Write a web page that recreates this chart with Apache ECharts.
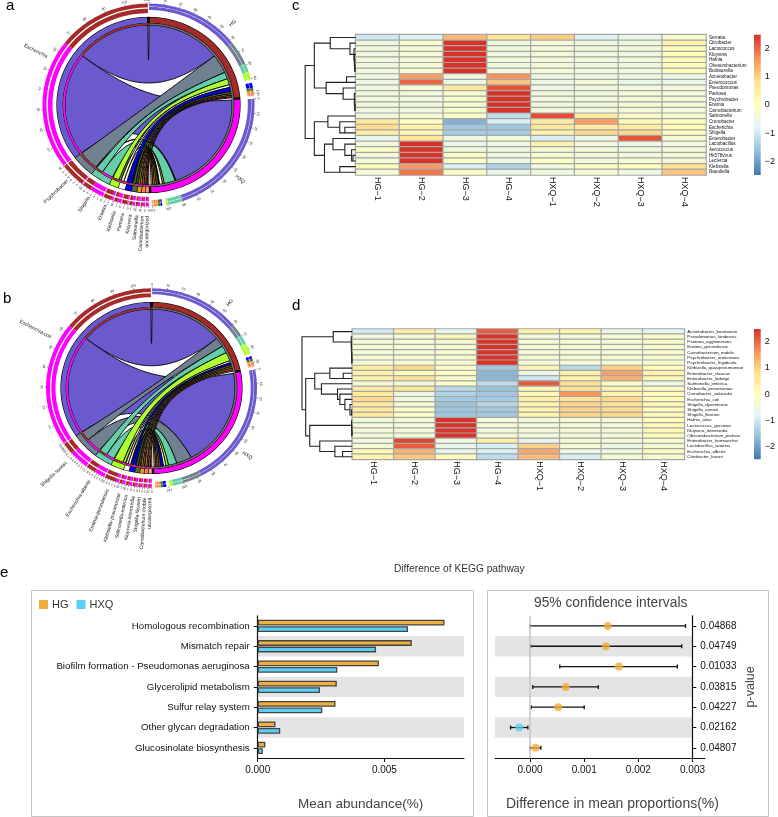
<!DOCTYPE html>
<html><head><meta charset="utf-8">
<style>html,body{margin:0;padding:0;background:#fff}#c{width:778px;height:817px}</style>
<script src="https://cdn.jsdelivr.net/npm/echarts@6/dist/echarts.min.js"></script>
</head><body><div id="c"></div>
<script>
// ---------- chord a ----------
const aSpecies=['Escherichia','Psychrobacter','Shigella','Erwinia','Klebsiella','Pantoea','Kluyvera','Salmonella','Carnobacterium','uncategorized'];
const aColors=['#6A5ACD','#708090','#66CDAA','#ADFF2F','#FFF8DC','#0000FF','#556B2F','#DAA520','#FF7F50','#FFA07A'];
const aHG=[53.5,14.3,5.1,4.6,2,3,1.8,1.2,1.1,.7];
const aHXQ=[77,.5,8,1.2,2.2,.8,1.5,1.3,1.2,1.1];
// ---------- chord b ----------
const bSpecies=['Escherichia-coli','Shigella-sonnei','Escherichia-albertii','Erwinia-gerundensis','Klebsiella-pneumoniae','Salmonella-enterica','Kluyvera-intermedia','Shigella-flexneri','Carnobacterium-mobile','uncategorized'];
const bColors=['#6A5ACD','#708090','#66CDAA','#ADFF2F','#FFF8DC','#0000FF','#556B2F','#DAA520','#FF7F50','#FFA07A'];
const bHG=[52,7,5.5,6.5,1.5,1.5,1.5,1.2,1.3,1];
const bHXQ=[74,11,6,1.8,1.8,1.8,1.4,1.2,1.1,1];
const groups=['HG','HXQ'];
// ---------- heatmap c ----------
const samples=['HG\u22121','HG\u22122','HG\u22123','HG\u22124','HXQ\u22121','HXQ\u22122','HXQ\u22123','HXQ\u22124'];
const cRows=['Serratia','Citrobacter','Lactococcus','Kluyvera','Hafnia','Obesumbacterium','Buttiauxella','Acinetobacter','Enterococcus','Pseudomonas','Pantoea','Psychrobacter','Erwinia','Carnobacterium','Salmonella','Cronobacter','Escherichia','Shigella','Enterobacter','Lactobacillus','Aerococcus','Hk578virus','Leclercia','Klebsiella','Raoultella'];
const cValues=[
[-1,-.8,1.2,.7,1,-.8,-.6,-.2],
[-.45,-.15,2.45,-.45,-.35,-.45,-.45,.35],
[-.4,-.3,2.45,-.4,-.35,-.4,-.4,.1],
[-.4,-.3,2.45,-.4,-.35,-.4,-.4,.1],
[-.4,-.3,2.45,-.4,-.35,-.4,-.4,.1],
[-.4,-.3,2.45,-.4,-.35,-.4,-.4,.1],
[-.4,-.3,2.45,-.4,-.35,-.4,-.4,.1],
[-.45,1.5,-.45,1.6,-.5,-.45,-.45,-.5],
[-.5,2,-.5,1.1,-.5,-.35,-.6,-.55],
[-.45,-.3,.6,2.15,-.5,-.4,-.4,-.4],
[-.4,-.4,-.2,2.45,-.4,-.4,-.3,-.35],
[-.4,-.4,-.2,2.45,-.4,-.4,-.3,-.35],
[-.4,-.4,-.2,2.45,-.4,-.4,-.3,-.35],
[-.4,-.4,-.2,2.45,-.4,-.4,-.3,-.35],
[-.45,-.3,-.1,-1.15,2.2,.5,-.2,-.25],
[.6,.05,-1.8,-.9,.5,1.5,.15,.05],
[.85,.35,-1.5,-1.5,.6,.55,.5,.1],
[.5,.2,-1.45,-1.45,.35,.9,.9,.1],
[-.6,.65,-.45,-.35,-.9,-.55,2.15,-.3],
[-.4,2.45,-.55,-.5,.35,-.4,-.45,-.4],
[-.1,2.45,-.4,-.45,-.3,-.35,-.4,-.35],
[-.35,2.45,-.1,-.45,-.25,-.35,-.4,-.35],
[-.35,2.45,-.1,-.45,-.1,-.4,-.3,-.3],
[.1,1.5,-.9,-1.35,-.35,0,0,.75],
[-.35,1.85,-.05,-.6,-.45,-.3,-.5,1.1]];
// dendrogram merges: [height, childA, childB]; child>=0 leaf row, child<0 merge ~child
const cTree=[[2,5,6],[3,4,~0],[4,3,~1],[5,2,~2],[17,1,~3],[75,0,~4],[27,7,8],[2,12,13],[3,11,~7],[4,10,~8],[37,9,~9],[87,~6,~10],[122,~5,~11],
[32,16,17],[47,15,~13],[82,14,~14],[8,21,22],[12,20,~16],[32,19,~17],[67,18,~18],[47,23,24],[92,~19,~20],[122,~15,~21],[149,~12,~22]];
// ---------- heatmap d ----------
const dRows=['Acinetobacter_baumannii','Pseudomonas_lundensis','Pantoea_agglomerans','Erwinia_gerundensis','Carnobacterium_mobile','Psychrobacter_urativorans','Psychrobacter_frigidicola','Klebsiella_quasipneumoniae','Enterobacter_cloacae','Enterobacter_ludwigii','Salmonella_enterica','Klebsiella_pneumoniae','Cronobacter_sakazakii','Escherichia_coli','Shigella_dysenteriae','Shigella_sonnei','Shigella_flexneri','Hafnia_alvei','Lactococcus_garvieae','Kluyvera_intermedia','Obesumbacterium_proteus','Enterobacter_hormaechei','Lactobacillus_aviarius','Escherichia_albertii','Citrobacter_koseri'];
const dValues=[
[-1,.5,-.65,2.1,.4,.3,-.55,-.7],
[-.4,-.3,.2,2.45,-.35,-.35,-.25,-.15],
[-.3,-.3,-.25,2.45,-.3,-.3,-.3,-.2],
[-.3,-.3,-.25,2.45,-.3,-.3,-.3,-.2],
[-.3,-.3,-.25,2.45,-.3,-.3,-.3,-.2],
[-.3,-.3,-.25,2.45,-.3,-.3,-.3,-.2],
[-.3,-.3,-.25,2.45,-.3,-.3,-.3,-.2],
[.45,.9,-.1,-1.5,.25,-1.25,1,.1],
[.4,.05,-.05,-1.75,-.6,.45,1.45,.3],
[.35,.75,-.15,-1.75,-1,.35,1.3,.25],
[-.3,-.4,-.1,-1.2,2.1,.75,-.1,-.55],
[.55,.65,-1.25,-1.6,.2,.7,.3,.1],
[.6,-.5,-1.35,-1.5,.2,1.6,.3,.05],
[.9,-.4,-1.5,-1.45,.4,.75,.9,.1],
[.65,-.35,-1.6,-1.3,.35,.95,.75,.2],
[.6,-.1,-1.55,-1.5,.35,.95,.85,.05],
[.6,-.1,-1.55,-1.5,.3,.95,.9,.1],
[-.35,-.35,2.45,-.35,-.35,-.3,-.35,.1],
[-.35,-.35,2.45,-.35,-.35,-.3,-.35,.1],
[-.35,-.35,2.45,-.35,-.35,-.3,-.35,.15],
[-.35,-.35,2.45,-.35,-.35,-.3,-.35,.1],
[-.4,2.3,-.5,.45,-.7,-.3,-.35,-.2],
[-.3,2.1,-.6,-.9,1,-.3,-.5,-.3],
[.1,1.3,-.7,-.9,1.4,-.45,-.45,.05],
[.3,1.1,.1,-1.2,1.2,-.9,-.3,-.25]];
const dTree=[[1,5,6],[1.5,4,~0],[2,3,~1],[2.5,2,~2],[3,1,~3],[57,0,~4],
[27,8,9],[67,7,~6],[2,15,16],[7,14,~8],[22,13,~9],[37,12,~10],[44,11,~11],[92,10,~12],[112,~7,~13],
[1,19,20],[1.5,18,~15],[2,17,~16],[29,23,24],[52,22,~18],[97,21,~19],[127,~17,~20],[139,~14,~21],[150,~5,~22]];
const heatColors=['#4575B4','#91BFDB','#E0F3F8','#FFFFBF','#FEE090','#FC8D59','#D73027'];
const cBarTicks=[-2,-1,0,1,2];
const dBarTicks=[-2,-1,0,1,2];
// ---------- panel e ----------
const pathways=['Homologous recombination','Mismatch repair','Biofilm formation - Pseudomonas aeruginosa','Glycerolipid metabolism','Sulfur relay system','Other glycan degradation','Glucosinolate biosynthesis'];
const meanHG=[.00737,.00608,.00478,.00312,.00307,.0007,.0003];
const meanHXQ=[.00593,.00467,.00314,.00246,.00255,.00089,.0002];
const diff=[.001436,.0014,.00164,.00066,.00052,-.0002,.0001];
const ciLow=[0,.00001,.00055,.00005,.00002,-.00036,0];
const ciHigh=[.00287,.0028,.00272,.00126,.001,-.00004,.0002];
const pValues=['0.04868','0.04749','0.01033','0.03815','0.04227','0.02162','0.04807'];
const bandRows=[1,3,5];
const absTicks=[0,.005];
const diffTicks=[0,.001,.002,.003];
const C_HG='#F0AE3C',C_HXQ='#5BD0F5';
const SANS='"Liberation Sans",Arial,sans-serif';

// ---- chord layout from the values ----
function chordLayout(hg,hxq,topGap,midGap,spGap){
  const n=hg.length;
  const total=hg.reduce((a,b)=>a+b,0)+hxq.reduce((a,b)=>a+b,0);
  const gaps=topGap*2+midGap*2+spGap*(n-1);
  const k=(360-gaps)/(2*total);
  let a=topGap;const L={hg:[],hxq:[],sp:[]};
  const sHG=hg.reduce((x,y)=>x+y,0)*k,sHXQ=hxq.reduce((x,y)=>x+y,0)*k;
  L.hgRange=[a,a+sHG];
  hg.forEach(v=>{L.hg.push([a,a+v*k]);a+=v*k});
  a+=midGap;L.hxqRange=[a,a+sHXQ];
  hxq.forEach(v=>{L.hxq.push([a,a+v*k]);a+=v*k});
  a+=midGap;
  for(let i=n-1;i>=0;i--){
    L.sp[i]={range:[a,a+(hg[i]+hxq[i])*k],hxq:[a,a+hxq[i]*k],hg:[a+hxq[i]*k,a+(hg[i]+hxq[i])*k]};
    a+=(hg[i]+hxq[i])*k+spGap;
  }
  return L;
}
function chordSeries(polarIndex,species,colors,hg,hxq,squash,R,labelR,tickSteps){
  const L=chordLayout(hg,hxq,.35,1.6,.4);
  const items=[];
  const band=(a,b,r0,r1,fill,stroke,sw)=>items.push({k:'band',a,b,r0,r1,fill,stroke,sw});
  const ribbon=(g,s,fill)=>items.push({k:'rib',g,s,fill});
  species.forEach((_,i)=>{
    ribbon(L.hxq[i],L.sp[i].hxq,colors[i]);
    ribbon(L.hg[i],L.sp[i].hg,colors[i]);
  });
  band(0,360,R.s0-.6,R.s1+.6,'#000');
  band(0,360,R.t0,R.s0-.6,'#888','#000',.5);
  band(L.hgRange[0]+.6,L.hgRange[1],R.s0,R.s1,'#A52A2A');
  band(L.hxqRange[0],L.hxqRange[1],R.s0,R.s1,'#FF00FF');
  species.forEach((_,i)=>{
    const s=L.sp[i];
    band(s.range[0],i===0?s.range[1]-.6:s.range[1],R.s0,R.s1,colors[i]);
    band(s.hxq[0],s.hxq[1],R.t0,R.s0-.6,'#FF00FF');
    band(s.hg[0],s.hg[1],R.t0,R.s0-.6,'#A52A2A');
    [[R.o0,R.o1],[R.i0,R.i1]].forEach(r=>{
      band(s.hxq[0],s.hxq[1],r[0],r[1],'#FF00FF');
      band(s.hg[0],s.hg[1],r[0],r[1],'#A52A2A');
    });
    [[R.g0,R.g1],[R.g2,R.g3]].forEach(r=>{
      band(L.hg[i][0],L.hg[i][1],r[0],r[1],colors[i]);
      band(L.hxq[i][0],L.hxq[i][1],r[0],r[1],colors[i]);
    });
    items.push({k:'name',a:(s.range[0]+s.range[1])/2,text:species[i],r:labelR[i]});
  });
  const ticks=(range,step,unit)=>{let v=0;
    for(let a=range[0];a<=range[1]+.01;a+=step){
      items.push({k:'tick',a,r0:R.o1,r1:R.o1+1.6});
      items.push({k:'tl',a,r:R.o1+4,text:String(v)});v+=unit;
    }};
  ticks(L.hgRange,tickSteps[0],10);
  ticks(L.hxqRange,tickSteps[1],10);
  ticks(L.sp[0].range,tickSteps[2],10);
  species.forEach((_,i)=>{if(i>0)ticks(L.sp[i].range,tickSteps[3],1)});
  groups.forEach((g,i)=>{const rg=i?L.hxqRange:L.hgRange;
    items.push({k:'gname',a:(rg[0]+rg[1])/2+(i?-2:2),r:R.o1+14,text:g});});
  const rawData=items.map((_,i)=>[i]);
  return {type:'custom',coordinateSystem:'polar',polarIndex,silent:true,clip:false,z:3,
    data:rawData,
    renderItem(params,api){
      const it=items[api.value(0)];
      const c0=api.coord([0,0]);
      const P=(r,a)=>{const p=api.coord([r,a]);return [p[0],c0[1]+(p[1]-c0[1])*squash];};
      const arc=(r,a,b)=>{const n=Math.max(2,Math.ceil(Math.abs(b-a)/2));const o=[];for(let i=0;i<=n;i++)o.push(P(r,a+(b-a)*i/n));return o;};
      if(it.k==='band'){
        const pts=arc(it.r1,it.a,it.b).concat(arc(it.r0,it.b,it.a));
        return {type:'polygon',shape:{points:pts},style:{fill:it.fill,stroke:it.stroke||null,lineWidth:it.sw||0}};
      }
      if(it.k==='rib'){
        const r=R.t0;
        const curve=(a,b)=>{
          const A=P(r,a),B=P(r,b);let d=Math.abs(b-a);if(d>180)d=360-d;
          const f=.42-.27*d/180;
          const C1=[c0[0]+(A[0]-c0[0])*f,c0[1]+(A[1]-c0[1])*f],C2=[c0[0]+(B[0]-c0[0])*f,c0[1]+(B[1]-c0[1])*f];
          const o=[];for(let i=1;i<40;i++){const t=i/40,u=1-t;
            o.push([u*u*u*A[0]+3*u*u*t*C1[0]+3*u*t*t*C2[0]+t*t*t*B[0],u*u*u*A[1]+3*u*u*t*C1[1]+3*u*t*t*C2[1]+t*t*t*B[1]]);}
          return o;};
        const pts=[].concat(arc(r,it.g[0],it.g[1]),curve(it.g[1],it.s[0]),arc(r,it.s[0],it.s[1]),curve(it.s[1],it.g[0]));
        return {type:'polygon',shape:{points:pts},style:{fill:it.fill,stroke:'#000',lineWidth:.9}};
      }
      if(it.k==='tick'){
        const A=P(it.r0,it.a),B=P(it.r1,it.a);
        return {type:'line',shape:{x1:A[0],y1:A[1],x2:B[0],y2:B[1]},style:{stroke:'#333',lineWidth:.5}};
      }
      const p=P(it.r,it.a);
      const rad=it.a*Math.PI/180;
      if(it.k==='tl'){
        return {type:'text',x:p[0],y:p[1],rotation:-rad,style:{text:it.text,fontSize:3.4,fontFamily:SANS,fill:'#222',align:'center',verticalAlign:'middle'}};
      }
      if(it.k==='gname'){
        return {type:'text',x:p[0],y:p[1],rotation:Math.PI/2-rad,style:{text:it.text,fontSize:5,fontFamily:SANS,fill:'#111',align:'center',verticalAlign:'middle'}};
      }
      return {type:'text',x:p[0],y:p[1],rotation:Math.PI/2-rad-Math.PI,style:{text:it.text,fontSize:5,fontFamily:SANS,fill:'#111',align:'right',verticalAlign:'middle'}};
    }};
}
const Ra={o0:102,o1:106,i0:96,i1:100.6,g0:103,g1:106,g2:99.3,g3:102.6,s0:85.8,s1:91.5,t0:83.6};
const labelRa=[113,113,113,113,116,116,116,116,116,116];
const Rb={o0:101.5,o1:105.5,i0:96,i1:100.2,g0:102.6,g1:105.5,g2:99.2,g3:102.2,s0:85.8,s1:90.5,t0:83.6};
const labelRb=[114,116,116,116,116,116,116,116,116,116];

// ---- dendrogram ----
function dendroSeries(xi,yi,tree){
  const posOf=(c)=>{if(c>=0)return [0,c];const t=tree[~c];return [t[0],(posOf(t[1])[1]+posOf(t[2])[1])/2];};
  const segs=tree.map(m=>{const a=posOf(m[1]),b=posOf(m[2]);return [m[0],a[0],a[1],b[0],b[1]];});
  return {type:'custom',xAxisIndex:xi,yAxisIndex:yi,silent:true,z:3,data:segs,clip:false,
    encode:{x:0,y:2},
    renderItem(p,api){
      const h=api.value(0),a0=api.value(1),ay=api.value(2),b0=api.value(3),by=api.value(4);
      const pts=[api.coord([a0,ay]),api.coord([h,ay]),api.coord([h,by]),api.coord([b0,by])];
      return {type:'polyline',shape:{points:pts},style:{stroke:'#222',lineWidth:1.1,fill:null}};
    }};
}
function colorBar(xi,yi,lim){
  return {type:'custom',xAxisIndex:xi,yAxisIndex:yi,silent:true,data:[[0,-lim,lim]],
    renderItem(p,api){
      const a=api.coord([0,api.value(2)]),b=api.coord([1,api.value(1)]);
      return {type:'rect',shape:{x:a[0],y:a[1],width:b[0]-a[0],height:b[1]-a[1]},
        style:{fill:new echarts.graphic.LinearGradient(0,1,0,0,heatColors.map((c,i)=>({offset:i/6,color:c})))}};
    }};
}
function heat(values,xi,yi){
  const data=[];values.forEach((row,r)=>row.forEach((v,c)=>data.push([c,r,v])));
  return {type:'heatmap',xAxisIndex:xi,yAxisIndex:yi,data,silent:true,progressive:0,
    itemStyle:{borderColor:'#A6A6A6',borderWidth:1.2},emphasis:{disabled:true}};
}
function bands(xi,yi,x0,x1){
  return {type:'custom',xAxisIndex:xi,yAxisIndex:yi,silent:true,z:0,clip:false,data:bandRows.map(r=>[r]),
    encode:{y:0},
    renderItem(p,api){
      const r=api.value(0);const a=api.coord([x0,r]),b=api.coord([x1,r]);const h=api.size([0,1])[1];
      return {type:'rect',shape:{x:a[0],y:a[1]-h/2,width:b[0]-a[0],height:h},style:{fill:'#E4E4E4'}};
    }};
}
const T=(text,left,top,fontSize,color)=>({text,left,top,padding:0,textStyle:{fontSize,fontWeight:'normal',fontFamily:SANS,color}});
const option={
  animation:false,
  backgroundColor:'#fff',
  title:[
    T('a',6,-2,15,'#000'),T('b',3,291,15,'#000'),T('c',292,-2,15,'#000'),T('d',292,298,15,'#000'),T('e',0,565,15,'#000'),
    T('Difference of KEGG pathway',394,564,10.2,'#333'),
    T('Mean abundance(%)',298,797,13.5,'#444'),
    T('95% confidence intervals',534,596,13.8,'#444'),
    T('Difference in mean proportions(%)',506,797,14,'#444')
  ],
  legend:{data:['HG','HXQ'],left:34,top:594,itemWidth:9,itemHeight:9,itemGap:8,icon:'rect',selectedMode:false,
    itemStyle:{borderWidth:0},textStyle:{fontSize:11,fontFamily:SANS,color:'#333',padding:[0,0,0,-1]}},
  polar:[{center:[148.5,105],radius:106},{center:[151.5,388],radius:106}],
  angleAxis:[0,1].map(i=>({polarIndex:i,type:'value',min:0,max:360,startAngle:90,clockwise:true,show:false})),
  radiusAxis:[0,1].map(i=>({polarIndex:i,type:'value',min:0,max:106,show:false})),
  visualMap:[
    {show:false,type:'continuous',min:-2.47,max:2.47,seriesIndex:[2],dimension:2,inRange:{color:heatColors}},
    {show:false,type:'continuous',min:-2.49,max:2.49,seriesIndex:[3],dimension:2,inRange:{color:heatColors}}
  ],
  grid:[
    {left:355.7,top:34.7,width:350.3,height:140.3},
    {left:305,top:34.7,width:50.7,height:140.3},
    {left:754,top:34.7,width:10,height:140.3},
    {left:352.3,top:329,width:332,height:130.3},
    {left:302,top:329,width:50.3,height:130.3},
    {left:754,top:329,width:10,height:130.3},
    {left:257.7,top:615.8,width:206.3,height:142.2},
    {left:495,top:615.8,width:210,height:142.2}
  ],
  xAxis:[
    {gridIndex:0,type:'category',data:samples,axisLine:{show:false},axisTick:{show:false},
      axisLabel:{rotate:-90,fontSize:9,fontFamily:SANS,color:'#111',margin:2,interval:0}},
    {gridIndex:1,type:'value',inverse:true,min:0,max:149.5,show:false},
    {gridIndex:2,type:'value',min:0,max:1,show:false},
    {gridIndex:3,type:'category',data:samples,axisLine:{show:false},axisTick:{show:false},
      axisLabel:{rotate:-90,fontSize:9,fontFamily:SANS,color:'#111',margin:2,interval:0}},
    {gridIndex:4,type:'value',inverse:true,min:0,max:150,show:false},
    {gridIndex:5,type:'value',min:0,max:1,show:false},
    {gridIndex:6,type:'value',min:0,max:.00814,position:'bottom',splitLine:{show:false},
      axisLine:{show:true,lineStyle:{color:'#111',width:1.2}},
      axisTick:{show:true,length:4,lineStyle:{color:'#111'},customValues:absTicks},
      axisLabel:{fontSize:10,fontFamily:SANS,color:'#111',margin:7,customValues:absTicks,formatter:v=>v.toFixed(3)}},
    {gridIndex:7,type:'value',min:-.000647,max:.00323,splitLine:{show:false},
      axisLine:{show:true,onZero:false,lineStyle:{color:'#111',width:1.2}},
      axisTick:{show:true,length:4,lineStyle:{color:'#111'},customValues:diffTicks},
      axisLabel:{fontSize:10,fontFamily:SANS,color:'#111',margin:7,customValues:diffTicks,formatter:v=>v.toFixed(3)}}
  ],
  yAxis:[
    {gridIndex:0,type:'category',inverse:true,data:cRows,position:'right',axisLine:{show:false},axisTick:{show:false},
      axisLabel:{fontSize:4.6,fontFamily:SANS,color:'#111',margin:3,interval:0}},
    {gridIndex:1,type:'category',inverse:true,data:cRows,show:false},
    {gridIndex:2,type:'value',min:-2.47,max:2.47,position:'right',splitLine:{show:false},axisLine:{show:false},axisTick:{show:false},
      axisLabel:{fontSize:9,fontFamily:SANS,color:'#111',margin:4,customValues:cBarTicks,formatter:v=>String(v).replace('-','\u2212')}},
    {gridIndex:3,type:'category',inverse:true,data:dRows,position:'right',axisLine:{show:false},axisTick:{show:false},
      axisLabel:{fontSize:4.4,fontFamily:SANS,color:'#111',margin:3,interval:0}},
    {gridIndex:4,type:'category',inverse:true,data:dRows,show:false},
    {gridIndex:5,type:'value',min:-2.49,max:2.49,position:'right',splitLine:{show:false},axisLine:{show:false},axisTick:{show:false},
      axisLabel:{fontSize:9,fontFamily:SANS,color:'#111',margin:4,customValues:dBarTicks,formatter:v=>String(v).replace('-','\u2212')}},
    {gridIndex:6,type:'category',inverse:true,data:pathways,axisLine:{show:true,onZero:false,lineStyle:{color:'#111',width:1.2}},
      axisTick:{show:true,length:4,alignWithLabel:true,lineStyle:{color:'#111'}},
      axisLabel:{fontSize:9.7,fontFamily:SANS,color:'#111',margin:8,interval:0}},
    {gridIndex:7,type:'category',inverse:true,data:pValues,position:'right',offset:-12.7,
      axisLine:{show:true,onZero:false,lineStyle:{color:'#111',width:1.2}},
      axisTick:{show:true,length:4,alignWithLabel:true,lineStyle:{color:'#111'}},
      axisLabel:{fontSize:10,fontFamily:SANS,color:'#111',margin:8,interval:0},
      name:'p-value',nameLocation:'middle',nameRotate:90,nameGap:52,nameTextStyle:{fontSize:12.5,fontFamily:SANS,color:'#444'}}
  ],
  series:[
    chordSeries(0,aSpecies,aColors,aHG,aHXQ,.957,Ra,labelRa,[8.3,8.3,11.4,2]),
    chordSeries(1,bSpecies,bColors,bHG,bHXQ,.945,Rb,labelRb,[8.3,8.3,11.4,1.5]),
    heat(cValues,0,0),
    heat(dValues,3,3),
    dendroSeries(1,1,cTree),
    dendroSeries(4,4,dTree),
    colorBar(2,2,2.47),
    colorBar(5,5,2.49),
    bands(6,6,0,.00814),
    bands(7,7,-.000647,.003),
    {type:'bar',name:'HG',xAxisIndex:6,yAxisIndex:6,data:meanHG,barWidth:5.8,barGap:'12%',z:3,silent:true,
      itemStyle:{color:C_HG,borderColor:'#444',borderWidth:1.3}},
    {type:'bar',name:'HXQ',xAxisIndex:6,yAxisIndex:6,data:meanHXQ,barWidth:5.8,z:3,silent:true,
      itemStyle:{color:C_HXQ,borderColor:'#444',borderWidth:1.3}},
    {type:'line',xAxisIndex:7,yAxisIndex:7,data:[],silent:true,symbol:'none',
      markLine:{silent:true,symbol:'none',label:{show:false},animation:false,lineStyle:{color:'#C4C4C4',width:1.5,type:'solid'},data:[{xAxis:0}]}},
    {type:'custom',xAxisIndex:7,yAxisIndex:7,silent:true,z:3,clip:false,
      data:pValues.map((p,i)=>[ciLow[i],ciHigh[i],i]),encode:{x:[0,1],y:2},
      renderItem(p,api){
        const a=api.coord([api.value(0),api.value(2)]),b=api.coord([api.value(1),api.value(2)]);
        const s={stroke:'#111',lineWidth:1.3};
        return {type:'group',children:[
          {type:'line',shape:{x1:a[0],y1:a[1],x2:b[0],y2:b[1]},style:s},
          {type:'line',shape:{x1:a[0],y1:a[1]-2,x2:a[0],y2:a[1]+2},style:s},
          {type:'line',shape:{x1:b[0],y1:b[1]-2,x2:b[0],y2:b[1]+2},style:s}]};
      }},
    {type:'scatter',xAxisIndex:7,yAxisIndex:7,symbolSize:8,z:4,silent:true,
      data:diff.map((v,i)=>({value:[v,i],itemStyle:{color:v<0?C_HXQ:C_HG}}))}
  ],
  graphic:[
    {type:'rect',shape:{x:31.5,y:590.5,width:442,height:226},style:{fill:null,stroke:'#C4C4C4',lineWidth:1},silent:true},
    {type:'rect',shape:{x:487.5,y:590.5,width:281,height:226},style:{fill:null,stroke:'#C4C4C4',lineWidth:1},silent:true}
  ]
};
const chart=echarts.init(document.getElementById('c'),null,{renderer:'canvas'});
chart.setOption(option);
</script></body></html>
